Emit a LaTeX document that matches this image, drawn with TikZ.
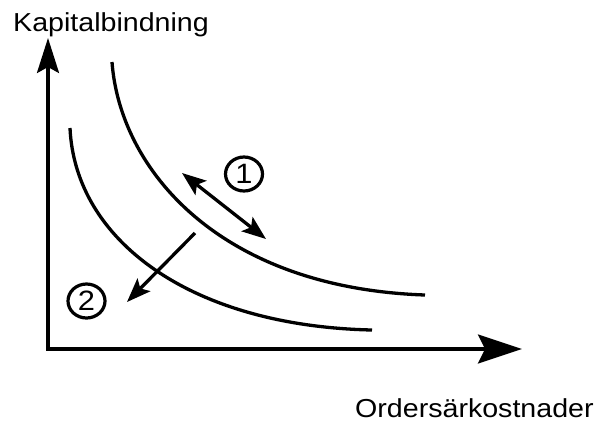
\documentclass[tikz,border=0pt]{standalone}
\usepackage{fontspec}
\setmainfont{Liberation Sans}[FakeStretch=1.1]
\usetikzlibrary{arrows.meta,shapes.geometric}
\begin{document}
\begin{tikzpicture}[x=1pt,y=-1pt,
  ln/.style={line width=3.3pt,black},
  axisy/.style={ln,-{Stealth[length=35pt,width=22pt,inset=6pt]}},
  axisx/.style={ln,-{Stealth[length=44pt,width=29pt,inset=7pt]}},
  dbl/.style={ln,{Stealth[length=24pt,width=18pt,inset=5pt]}-{Stealth[length=24pt,width=18pt,inset=5pt]}},
  sgl/.style={ln,-{Stealth[length=24pt,width=18pt,inset=5pt]}},
  lbl/.style={font=\fontsize{26}{30}\selectfont,inner sep=0pt},
  circ/.style={ellipse,draw,line width=3.2pt,minimum width=37pt,minimum height=34pt,inner sep=0pt,font=\fontsize{28}{30}\selectfont}
]
\useasboundingbox (0,0) rectangle (601,424);
\coordinate (O) at (48,349);
\coordinate (Ob) at (46,349);
\coordinate (Ytip) at (48,38);
\coordinate (Xtip) at (522,349);
\draw[axisy] (O) -- (Ytip);
\draw[axisx] (Ob) -- (Xtip);
% curves
\coordinate (c1s) at (112,62);
\coordinate (c1e) at (425,295);
\coordinate (c2s) at (70,128);
\coordinate (c2e) at (372,330);
\draw[ln] (c1s) .. controls (120,170) and (220,288) .. (c1e);
\draw[ln] (c2s) .. controls (75,240) and (190,326) .. (c2e);
% arrows
\coordinate (d1) at (182,173);
\coordinate (d2) at (266,239);
\draw[dbl] (d1) -- (d2);
\coordinate (s1) at (195,233);
\coordinate (s2) at (127,302);
\draw[sgl] (s1) -- (s2);
% circled numbers
\node[circ] (n1) at (244,174) {1};
\node[circ] (n2) at (86.5,301) {2};
% labels
\node[lbl,anchor=base west] (ylab) at (13,31) {Kapitalbindning};
\node[lbl,anchor=base west] (xlab) at (355,417) {Ordersärkostnader};
\end{tikzpicture}
\end{document}
